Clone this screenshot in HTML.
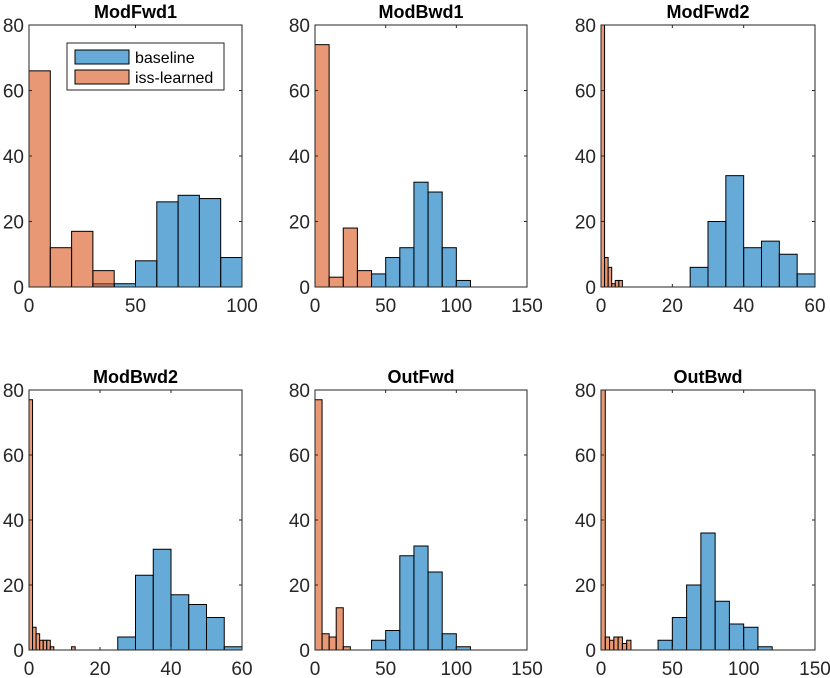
<!DOCTYPE html>
<html><head><meta charset="utf-8"><style>
body{margin:0;background:#fff;}
svg{display:block;font-family:"Liberation Sans",sans-serif;}
</style></head><body>
<svg id="fig" width="830" height="678" viewBox="0 0 830 678"></svg>
<script>
const titles=["ModFwd1","ModBwd1","ModFwd2","ModBwd2","OutFwd","OutBwd"];
const xMaxes=[100,150,60,60,150,150];
const xTickLabels=[[0,50,100],[0,50,100,150],[0,20,40,60],[0,20,40,60],[0,50,100,150],[0,50,100,150]];
const yTickLabels=[0,20,40,60,80];
const baseStart=[30,40,25,25,40,40];
const baseWidth=[10,10,5,5,10,10];
const baseCounts1=[1,1,8,26,28,27,9];
const baseCounts2=[4,9,12,32,29,12,2];
const baseCounts3=[6,20,34,12,14,10,4];
const baseCounts4=[4,23,31,17,14,10,1];
const baseCounts5=[3,6,29,32,24,5,1];
const baseCounts6=[3,10,20,36,15,8,7,1];
const issStart=[0,0,0,0,0,0];
const issWidth=[10,10,1,1,5,3];
const issCounts1=[66,12,17,5];
const issCounts2=[74,3,18,5];
const issCounts3=[90,9,6,1,2,2];
const issCounts4=[77,7,5,3,3,3,1,0,0,0,0,0,1];
const issCounts5=[77,5,4,13,1];
const issCounts6=[90,4,3,4,4,2,3];
const baseAll=[baseCounts1,baseCounts2,baseCounts3,baseCounts4,baseCounts5,baseCounts6];
const issAll=[issCounts1,issCounts2,issCounts3,issCounts4,issCounts5,issCounts6];

const NS="http://www.w3.org/2000/svg";
const fig=document.getElementById('fig');
function mk(tag,attrs,parent){const e=document.createElementNS(NS,tag);for(const k in attrs)e.setAttribute(k,attrs[k]);parent.appendChild(e);return e;}
const colL=[29,315,601], colR=[242,527,815], rowT=[25,390], rowB=[287,650];
for(let i=0;i<6;i++){
  const c=i%3,r=Math.floor(i/3);
  const L=colL[c],R=colR[c],T=rowT[r],B=rowB[r];
  const sx=v=>L+(R-L)*v/xMaxes[i];
  const sy=v=>B-(B-T)*v/80;
  const g=mk('g',{},fig);
  
  
  const cp=mk('clipPath',{id:'cp'+i},g);
  mk('rect',{x:L,y:T,width:R-L,height:B-T},cp);
  const bars=mk('g',{'clip-path':'url(#cp'+i+')'},g);
  baseAll[i].forEach((v,k)=>{ if(v<=0)return;
    const x0=baseStart[i]+k*baseWidth[i];
    const rc=mk('rect',{x:sx(x0),y:sy(v),width:sx(x0+baseWidth[i])-sx(x0),height:sy(0)-sy(v),fill:'#0072BD','fill-opacity':0.6,stroke:'#000','stroke-width':1},bars);
    
    
  });
  issAll[i].forEach((v,k)=>{ if(v<=0)return;
    const x0=issStart[i]+k*issWidth[i];
    const rc=mk('rect',{x:sx(x0),y:sy(v),width:sx(x0+issWidth[i])-sx(x0),height:sy(0)-sy(v),fill:'#D95319','fill-opacity':0.6,stroke:'#000','stroke-width':1},bars);
    
    
  });
  mk('rect',{x:L,y:T,width:R-L,height:B-T,fill:'none',stroke:'#262626','stroke-width':1},g);
  yTickLabels.forEach(v=>{
    mk('line',{x1:L,x2:L+3,y1:sy(v),y2:sy(v),stroke:'#262626'},g);
    mk('line',{x1:R,x2:R-3,y1:sy(v),y2:sy(v),stroke:'#262626'},g);
    const t=mk('text',{x:L-5,y:sy(v)+7,'text-anchor':'end','font-size':19,fill:'#262626'},g);
    t.textContent=v;
    
    
  });
  xTickLabels[i].forEach(v=>{
    mk('line',{x1:sx(v),x2:sx(v),y1:B,y2:B-3,stroke:'#262626'},g);
    mk('line',{x1:sx(v),x2:sx(v),y1:T,y2:T+3,stroke:'#262626'},g);
    const t=mk('text',{x:sx(v),y:B+25,'text-anchor':'middle','font-size':19,fill:'#262626'},g);
    t.textContent=v;
    
    
  });
  const tt=mk('text',{x:(L+R)/2,y:T-7,'text-anchor':'middle','font-size':18,'font-weight':'bold',fill:'#000'},g);
  tt.textContent=titles[i];
  
  
}
// legend
const lg=mk('g',{},fig);


mk('rect',{x:67,y:43,width:157,height:47,fill:'#fff',stroke:'#262626','stroke-width':1},lg);
const entries=[["baseline","#0072BD"],["iss-learned","#D95319"]];
entries.forEach((e,k)=>{
  const y=50+k*20;
  const p=mk('rect',{x:75,y:y,width:54,height:14,fill:e[1],'fill-opacity':0.6,stroke:'#000'},lg);
  
  
  const t=mk('text',{x:135,y:y+13,'font-size':16,fill:'#000'},lg);
  t.textContent=e[0];
  
  
});
</script>
</body></html>
